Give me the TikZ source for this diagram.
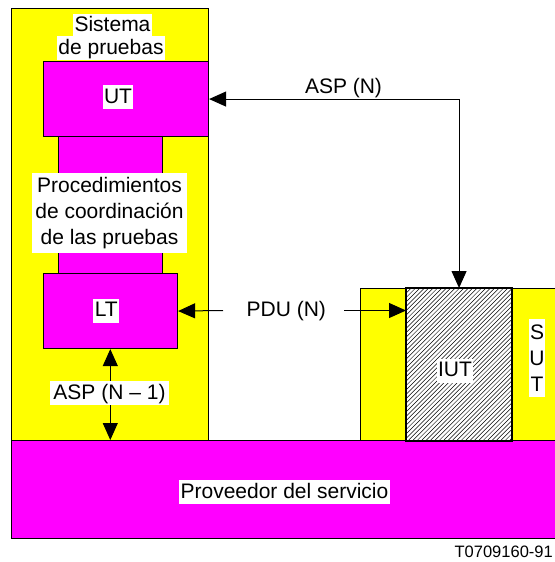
\documentclass[tikz,border=0pt]{standalone}
\usepackage{fontspec}
\setmainfont{Liberation Sans}
\usetikzlibrary{arrows.meta}

\definecolor{sysyellow}{RGB}{255,255,0}
\definecolor{sysmagenta}{RGB}{255,0,255}

\tikzset{
  box/.style={draw=black, line width=1.1pt, inner sep=0pt, anchor=north west},
  lbl/.style={fill=white, inner xsep=1.5pt, inner ysep=1pt, text height=17pt,
              text depth=5pt, anchor=base, font=\fontsize{21}{26}\selectfont},
  multilbl/.style={fill=white, align=center, font=\fontsize{21}{26}\selectfont},
  arr/.style={line width=1pt, -{Triangle[length=17pt,width=15pt]}},
  arrboth/.style={line width=1pt, {Triangle[length=17pt,width=15pt]}-{Triangle[length=17pt,width=15pt]}},
  hatch/.style={line width=0.5pt},
}

\begin{document}
\begin{tikzpicture}[x=1pt,y=-1pt]
  \useasboundingbox (0,0) rectangle (554,562);

  % test system frame and its inner blocks
  \node[box, fill=sysyellow, minimum width=197pt, minimum height=432.5pt] (sys) at (11,7.5) {};
  \node[box, fill=sysmagenta, minimum width=104pt, minimum height=137pt] (bar) at (58,136) {};
  \node[box, fill=sysmagenta, minimum width=165.5pt, minimum height=75pt] (UT) at (42.5,61) {};
  \node[box, fill=sysmagenta, minimum width=134.5pt, minimum height=75pt] (LT) at (42.5,273) {};

  % service provider (runs off the right edge)
  \node[box, fill=sysmagenta, minimum width=560pt, minimum height=98pt] (prov) at (11,440) {};

  % system under test with the implementation under test
  \node[box, fill=sysyellow, minimum width=210pt, minimum height=152pt] (sut) at (360,288) {};
  \node[box, fill=white, minimum width=105pt, minimum height=152pt] (IUT) at (406,288) {};
  \begin{scope}
    \clip (IUT.north west) rectangle (IUT.south east);
    \foreach \k in {246,250.4,...,516} \draw[hatch] (\k,440) -- ++(152,-152);
  \end{scope}
  \draw[line width=1.1pt] (IUT.north west) rectangle (IUT.south east);

  % connectors
  \draw[arrboth] (UT.east) -- (UT.east -| IUT.north) -- (IUT.north);
  \coordinate (pduL) at (223,310.5);
  \coordinate (pduR) at (344,310.5);
  \draw[arr] (pduL) -- (LT.east);
  \draw[arr] (pduR) -- (pduR -| IUT.west);
  \draw[arrboth] (LT.south) -- (LT.south |- prov.north);

  % labels
  \node[lbl] (sysA) at (112.5,31.7) {Sistema};
  \node[lbl] (sysB) at (111,54.3) {de pruebas};
  \node[lbl] (utl) at (118,103.3) {UT};
  \node[multilbl, inner xsep=3pt, inner ysep=4pt] (proc) at (109.5,213)
       {Procedimientos\\de coordinación\\de las pruebas};
  \node[lbl] (ltl) at (106.3,316.7) {LT};
  \node[lbl, inner xsep=3pt] (aspn1) at (109.5,399.3) {ASP (N – 1)};
  \node[lbl, fill=none] (aspn) at (343.5,93.3) {ASP (N)};
  \node[lbl, fill=none] (pdu) at (286.3,316) {PDU (N)};
  \node[lbl] (iutl) at (455,376.7) {IUT};
  \node[multilbl, inner xsep=0pt, inner ysep=5.5pt] (sutl) at (537,357.8) {S\\U\\T};
  \node[lbl] (provl) at (284.5,498.3) {Proveedor del servicio};
  \node[anchor=base east, inner sep=0pt, font=\fontsize{16.5}{20}\selectfont] (ref) at (553,557.5) {T0709160-91};
\end{tikzpicture}
\end{document}
